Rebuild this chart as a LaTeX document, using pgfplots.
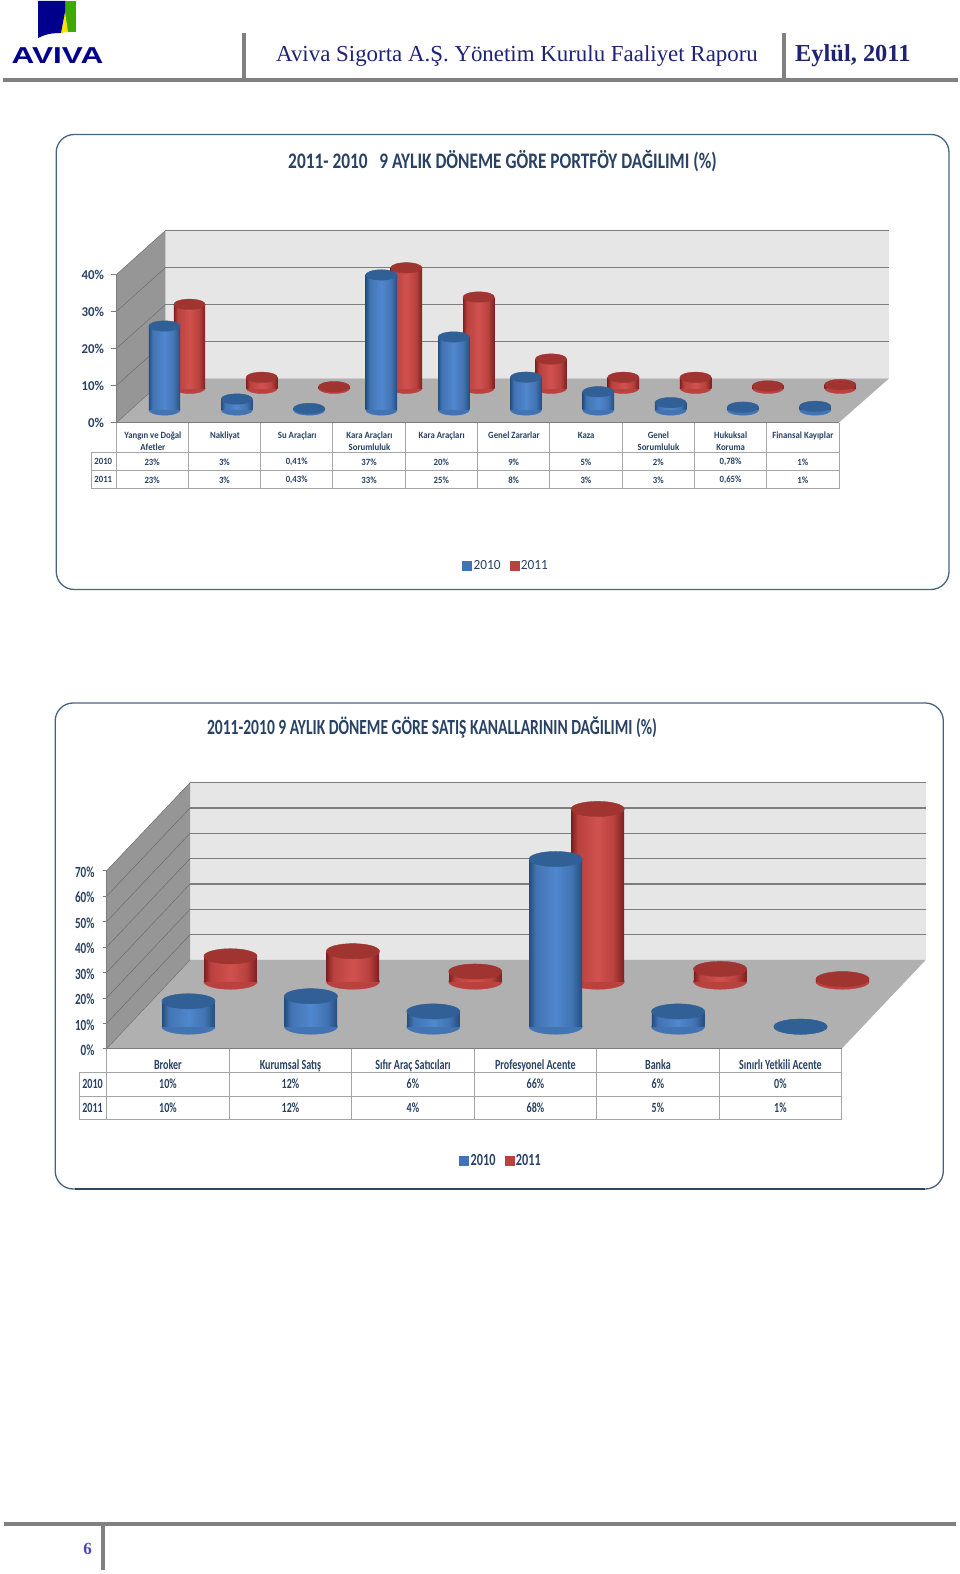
\documentclass[border=0pt]{standalone}
\usepackage{fontspec}
\usepackage{pgfplots}
\usepackage{pgfplotstable}
\pgfplotsset{compat=1.18}
\setmainfont{Carlito}
\newfontfamily\fA[FakeStretch=0.92]{Carlito}
\newfontfamily\fAy[FakeStretch=0.95]{Carlito}
\newfontfamily\fB[FakeStretch=0.72]{Carlito}
\newfontfamily\fT[FakeStretch=0.78]{Carlito}
\newfontfamily\fS{Liberation Serif}
\newfontfamily\fH{Liberation Sans}

\definecolor{navy}{RGB}{40,65,100}
\definecolor{headc}{RGB}{30,35,115}
\definecolor{rulec}{RGB}{128,128,128}
\definecolor{framec}{RGB}{70,100,130}
\definecolor{wallc}{RGB}{230,230,230}
\definecolor{sidec}{RGB}{150,150,150}
\definecolor{floorc}{RGB}{176,176,176}
\definecolor{gridc}{RGB}{125,125,125}
\definecolor{tabc}{RGB}{165,165,165}
\definecolor{capblue}{RGB}{48,96,150}
\definecolor{capred}{RGB}{160,52,48}
\definecolor{blueD}{RGB}{38,78,125}
\definecolor{blueM}{RGB}{66,116,180}
\definecolor{blueL}{RGB}{80,135,205}
\definecolor{redD}{RGB}{125,32,32}
\definecolor{redM}{RGB}{185,65,62}
\definecolor{redL}{RGB}{208,82,78}

\pgfdeclarehorizontalshading{cylblue}{100bp}{color(0bp)=(blueD); color(25bp)=(blueD); color(31bp)=(blueM); color(50bp)=(blueL); color(65bp)=(blueM); color(75bp)=(blueD); color(100bp)=(blueD)}
\pgfdeclarehorizontalshading{cylred}{100bp}{color(0bp)=(redD); color(25bp)=(redD); color(31bp)=(redM); color(50bp)=(redL); color(65bp)=(redM); color(75bp)=(redD); color(100bp)=(redD)}

% top and bottom of the cylinders, small (first chart) and large (second chart)
% (0pt,0pt) and not (0,0): inside an axis (0,0) would mean axis cs
\pgfdeclareplotmark{capblueA}{\fill[capblue,rotate=7] (0pt,0pt) ellipse [x radius=15.7pt,y radius=5.2pt];}
\pgfdeclareplotmark{capredA}{\fill[capred,rotate=7] (0pt,0pt) ellipse [x radius=15.7pt,y radius=5.2pt];}
\pgfdeclareplotmark{baseblueA}{\fill[blueM,rotate=7] (0pt,0pt) ellipse [x radius=15.7pt,y radius=5.2pt];}
\pgfdeclareplotmark{baseredA}{\fill[redM,rotate=7] (0pt,0pt) ellipse [x radius=15.7pt,y radius=5.2pt];}
\pgfdeclareplotmark{capblueB}{\fill[capblue,rotate=10] (0pt,0pt) ellipse [x radius=26.6pt,y radius=7.6pt];}
\pgfdeclareplotmark{capredB}{\fill[capred,rotate=10] (0pt,0pt) ellipse [x radius=26.6pt,y radius=7.6pt];}
\pgfdeclareplotmark{baseblueB}{\fill[blueM,rotate=10] (0pt,0pt) ellipse [x radius=26.6pt,y radius=7.6pt];}
\pgfdeclareplotmark{baseredB}{\fill[redM,rotate=10] (0pt,0pt) ellipse [x radius=26.6pt,y radius=7.6pt];}

\pgfplotstableread{
i v10  v11  b
0 23   23   0
1 3    3    0
2 0.41 0.43 0
3 37   33   0
4 20   25   0
5 9    8    0
6 5    3    0
7 2    3    0
8 0.78 0.65 0
9 1    1    0
}\tabA
\pgfplotstableread{
i v10 v11 b
0 10  10  0
1 12  12  0
2 6   4   0
3 66  68  0
4 6   5   0
5 0   1   0
}\tabB

\pgfplotsset{
  cyl/.style={hide axis,clip=false,anchor=south west,xmin=-0.5,ymin=0},
  cylA/.style={cyl,x=72.3pt,y=3.65pt,xmax=9.5,ymax=45},
  cylB/.style={cyl,x=122.4pt,y=2.54pt,xmax=5.5,ymax=75},
  bars/.style={ybar,bar shift=0pt,draw=none,shade,shading=#1},
}

\begin{document}
\begin{tikzpicture}
\path[use as bounding box] (0,0) rectangle (960pt,1574pt);

\begin{scope}[x=1pt,y=-1pt,yshift=1574pt]
% header
\fill[rulec] (3,78) rectangle (958,82);
\fill[rulec] (242,33) rectangle (246,80);
\fill[rulec] (782,33) rectangle (786,80);
\fill[green!55!black!75!yellow] (65,1) -- (76,1) -- (76,32) -- (65,32) -- cycle;
\fill[yellow!85!orange] (65,12) -- (68,32) -- (61,33) -- cycle;
\fill[blue!55!black] (38,1) -- (65,1) -- (65,12) -- (61,33) .. controls (50,33) and (44,35) .. (38,38) -- cycle;
\node[inner sep=0pt,text=blue!55!black] at (57.5,55.5)
  {\fH\bfseries\fontsize{23}{23}\selectfont\scalebox{1.37}[1]{AVIVA}};
\node[inner sep=0pt,anchor=west,text=headc] at (276,56)
  {\fS\fontsize{22.9}{24}\selectfont Aviva Sigorta A.Ş. Yönetim Kurulu Faaliyet Raporu};
\node[inner sep=0pt,anchor=west,text=headc] at (795,56)
  {\fS\bfseries\fontsize{24.4}{25}\selectfont Eylül, 2011};
% footer
\fill[rulec] (4,1522) rectangle (956,1526);
\fill[rulec] (101,1522) rectangle (105,1570);
\node[inner sep=0pt,text=blue!45!gray] at (87.7,1549) {\fS\bfseries\fontsize{17}{18}\selectfont 6};

% first chart: frame, title, walls
\draw[framec,line width=1.3pt,rounded corners=18pt] (56.2,134.5) rectangle (949,589.5);
\node[inner sep=0pt,text=navy] at (502.5,161)
  {\fT\bfseries\fontsize{22.2}{24}\selectfont 2011- 2010\ \ \ 9 AYLIK DÖNEME GÖRE PORTFÖY DAĞILIMI (\%)};
\fill[wallc] (165.3,230.7) rectangle (889,378.5);
\fill[sidec] (116.7,422.5) -- (165.3,378.5) -- (165.3,230.7) -- (116.7,274.3) -- cycle;
\fill[floorc] (116.7,422.5) -- (839,422.5) -- (889,378.5) -- (165.3,378.5) -- cycle;
\foreach \k in {0,1,2,3} {
  \draw[gridc,line width=1.2pt] (165.3,230.7+37*\k) -- (889,230.7+37*\k);
  \draw[gridc!80!black,line width=0.4pt] (116.7,274.3+37*\k) -- (165.3,230.7+37*\k);
}
\draw[gridc!80!black,line width=0.4pt] (116.7,422.5) -- (165.3,378.5);
% first chart: table
\foreach \k in {0,...,10} \draw[tabc,line width=0.9pt] (116+72.3*\k,422.7) -- (116+72.3*\k,488.7);
\draw[tabc,line width=0.9pt] (91.7,452.3) -- (839,452.3);
\draw[tabc,line width=0.9pt] (91.7,470.7) -- (839,470.7);
\draw[tabc,line width=0.9pt] (91.7,488.7) -- (839,488.7);
\draw[tabc,line width=0.9pt] (91.7,452.3) -- (91.7,488.7);
\node[inner sep=0pt,text=navy] at (103.3,461.5) {\fA\bfseries\fontsize{9.5}{12}\selectfont 2010};
\node[inner sep=0pt,text=navy] at (103.3,479.5) {\fA\bfseries\fontsize{9.5}{12}\selectfont 2011};
\foreach \i/\a/\b in {0/23\%/23\%,1/3\%/3\%,2/{0,41\%}/{0,43\%},3/37\%/33\%,4/20\%/25\%,
                      5/9\%/8\%,6/5\%/3\%,7/2\%/3\%,8/{0,78\%}/{0,65\%},9/1\%/1\%} {
  \pgfmathsetmacro\cx{116+72.3*(\i+0.5)}
  \node[inner sep=0pt,text=navy] at (\cx,462) {\fA\bfseries\fontsize{9.5}{12}\selectfont \a};
  \node[inner sep=0pt,text=navy] at (\cx,480) {\fA\bfseries\fontsize{9.5}{12}\selectfont \b};
}

% second chart: frame, title, walls
\draw[framec,line width=1.3pt,rounded corners=18pt] (55.2,703) rectangle (943.3,1189);
\draw[framec!70!black,line width=2.4pt] (75,1189.3) -- (925,1189.3);
\node[inner sep=0pt,text=navy] at (432,727.5)
  {\fB\bfseries\fontsize{21.6}{24}\selectfont 2011-2010 9 AYLIK DÖNEME GÖRE SATIŞ KANALLARININ DAĞILIMI (\%)};
\fill[wallc] (190,782.7) rectangle (925.7,960);
\fill[sidec] (106.7,1048.7) -- (190,960) -- (190,782.7) -- (106.7,870.7) -- cycle;
\fill[floorc] (106.7,1048.7) -- (841.7,1048.7) -- (925.7,960) -- (190,960) -- cycle;
\foreach \k in {0,...,6} {
  \draw[gridc,line width=1.2pt] (190,782.7+25.33*\k) -- (925.7,782.7+25.33*\k);
  \draw[gridc!80!black,line width=0.4pt] (106.7,870.7+25.43*\k) -- (190,782.7+25.33*\k);
}
\draw[gridc!80!black,line width=0.4pt] (106.7,1048.7) -- (190,960);
% second chart: table
\foreach \k in {0,...,6} \draw[tabc,line width=0.9pt] (106.7+122.5*\k,1048.7) -- (106.7+122.5*\k,1119.7);
\draw[tabc,line width=0.9pt] (79.3,1072.3) -- (841.7,1072.3);
\draw[tabc,line width=0.9pt] (79.3,1096) -- (841.7,1096);
\draw[tabc,line width=0.9pt] (79.3,1119.7) -- (841.7,1119.7);
\draw[tabc,line width=0.9pt] (79.3,1072.3) -- (79.3,1119.7);
\node[inner sep=0pt,text=navy] at (92.6,1084) {\fB\bfseries\fontsize{14}{16}\selectfont 2010};
\node[inner sep=0pt,text=navy] at (92.6,1107.5) {\fB\bfseries\fontsize{14}{16}\selectfont 2011};
\foreach \i/\a/\b in {0/10\%/10\%,1/12\%/12\%,2/6\%/4\%,3/66\%/68\%,4/6\%/5\%,5/0\%/1\%} {
  \pgfmathsetmacro\cx{106.7+122.5*(\i+0.5)}
  \node[inner sep=0pt,text=navy] at (\cx,1084) {\fB\bfseries\fontsize{14}{16}\selectfont \a};
  \node[inner sep=0pt,text=navy] at (\cx,1107.5) {\fB\bfseries\fontsize{14}{16}\selectfont \b};
}
\end{scope}

% first chart: axis with ticks, category names and legend
\begin{axis}[at={(116.7pt,1151.5pt)},anchor=south west,x=72.23pt,y=3.7pt,
  xmin=0,xmax=10,ymin=0,ymax=40,axis lines*=left,clip=false,
  axis line style={draw=gridc,line width=1pt},
  ytick={0,10,20,30,40},yticklabels={0\%,10\%,20\%,30\%,40\%},
  tick align=outside,ytick style={draw=gridc,line width=0.6pt},major tick length=6pt,
  yticklabel style={text=navy,font=\fAy\bfseries\fontsize{13.5}{14}\selectfont,inner xsep=0pt,xshift=-6.5pt,yshift=-0.5pt},
  xtick={0.5,1.5,2.5,3.5,4.5,5.5,6.5,7.5,8.5,9.5},xtick style={draw=none},
  xticklabels={{Yangın ve Doğal\\Afetler},Nakliyat,Su Araçları,{Kara Araçları\\Sorumluluk},Kara Araçları,
    Genel Zararlar,\vphantom{l}Kaza,{Genel\\Sorumluluk},{Hukuksal\\Koruma},Finansal Kayıplar},
  xticklabel style={text=navy,align=center,anchor=north,inner ysep=0pt,yshift=-3pt,
    font=\fA\bfseries\fontsize{9.5}{12}\selectfont},
  legend columns=2,
  legend style={at={(0.539,-0.97)},anchor=center,draw=none,fill=none,text=navy,inner sep=0pt,
    font=\fAy\fontsize{14}{15}\selectfont,
    /tikz/every even column/.append style={column sep=7pt}}]
\addlegendimage{legend image code/.code={\fill[blueM] (0pt,-4.5pt) rectangle (9pt,4.5pt);}}
\addlegendentry{2010}
\addlegendimage{legend image code/.code={\fill[redM] (0pt,-4.5pt) rectangle (9pt,4.5pt);}}
\addlegendentry{2011}
\end{axis}

% first chart: 2011 cylinders, behind. The bases need an axis of their own,
% marks of one axis come out over its bars
\begin{axis}[cylA,at={(153.35pt,1185.7pt)}]
\addplot[only marks,mark=baseredA] table[x=i,y=b] {\tabA};
\end{axis}
\begin{axis}[cylA,at={(153.35pt,1185.7pt)}]
\pgfplotsinvokeforeach{0,...,9}{
  \addplot[bars=cylred,bar width=31.4pt,restrict x to domain=#1:#1] table[x=i,y=v11] {\tabA};
}
\addplot[only marks,mark=capredA] table[x=i,y=v11] {\tabA};
\end{axis}
% first chart: 2010 cylinders, in front
\begin{axis}[cylA,at={(128.35pt,1164pt)}]
\addplot[only marks,mark=baseblueA] table[x=i,y=b] {\tabA};
\end{axis}
\begin{axis}[cylA,at={(128.35pt,1164pt)}]
\pgfplotsinvokeforeach{0,...,9}{
  \addplot[bars=cylblue,bar width=31.4pt,restrict x to domain=#1:#1] table[x=i,y=v10] {\tabA};
}
\addplot[only marks,mark=capblueA] table[x=i,y=v10] {\tabA};
\end{axis}

% second chart: axis with ticks, category names and legend
\begin{axis}[at={(106.7pt,525.3pt)},anchor=south west,x=122.5pt,y=2.543pt,
  xmin=0,xmax=6,ymin=0,ymax=70,axis lines*=left,clip=false,
  axis line style={draw=gridc,line width=1pt},
  ytick={0,10,20,30,40,50,60,70},yticklabels={0\%,10\%,20\%,30\%,40\%,50\%,60\%,70\%},
  tick align=outside,ytick style={draw=gridc,line width=0.6pt},major tick length=4pt,
  yticklabel style={text=navy,font=\fB\bfseries\fontsize{15.5}{16}\selectfont,inner xsep=0pt,xshift=-8pt,yshift=-1.5pt},
  xtick={0.5,1.5,2.5,3.5,4.5,5.5},xtick style={draw=none},
  xticklabels={Broker,Kurumsal Satış,Sıfır Araç Satıcıları,Profesyonel Acente,Banka,Sınırlı Yetkili Acente},
  xticklabel style={text=navy,anchor=north,inner ysep=0pt,yshift=-6.5pt,text height=10pt,
    font=\fB\bfseries\fontsize{14}{16}\selectfont},
  legend columns=2,
  legend style={at={(0.5365,-0.629)},anchor=center,draw=none,fill=none,text=navy,inner sep=0pt,
    font=\fB\bfseries\fontsize{17}{18}\selectfont,
    /tikz/every even column/.append style={column sep=7pt}}]
\addlegendimage{legend image code/.code={\fill[blueM] (0pt,-4.5pt) rectangle (9pt,4.5pt);}}
\addlegendentry{2010}
\addlegendimage{legend image code/.code={\fill[redM] (0pt,-4.5pt) rectangle (9pt,4.5pt);}}
\addlegendentry{2011}
\end{axis}

% second chart: 2011 cylinders, behind
\begin{axis}[cylB,at={(169.3pt,592.3pt)}]
\addplot[only marks,mark=baseredB] table[x=i,y=b] {\tabB};
\end{axis}
\begin{axis}[cylB,at={(169.3pt,592.3pt)}]
\pgfplotsinvokeforeach{0,...,5}{
  \addplot[bars=cylred,bar width=52.6pt,restrict x to domain=#1:#1] table[x=i,y=v11] {\tabB};
}
\addplot[only marks,mark=capredB] table[x=i,y=v11] {\tabB};
\end{axis}
% second chart: 2010 cylinders, in front
\begin{axis}[cylB,at={(127.3pt,547.3pt)}]
\addplot[only marks,mark=baseblueB] table[x=i,y=b] {\tabB};
\end{axis}
\begin{axis}[cylB,at={(127.3pt,547.3pt)}]
\pgfplotsinvokeforeach{0,...,5}{
  \addplot[bars=cylblue,bar width=52.6pt,restrict x to domain=#1:#1] table[x=i,y=v10] {\tabB};
}
\addplot[only marks,mark=capblueB] table[x=i,y=v10] {\tabB};
\end{axis}
\end{tikzpicture}
\end{document}
